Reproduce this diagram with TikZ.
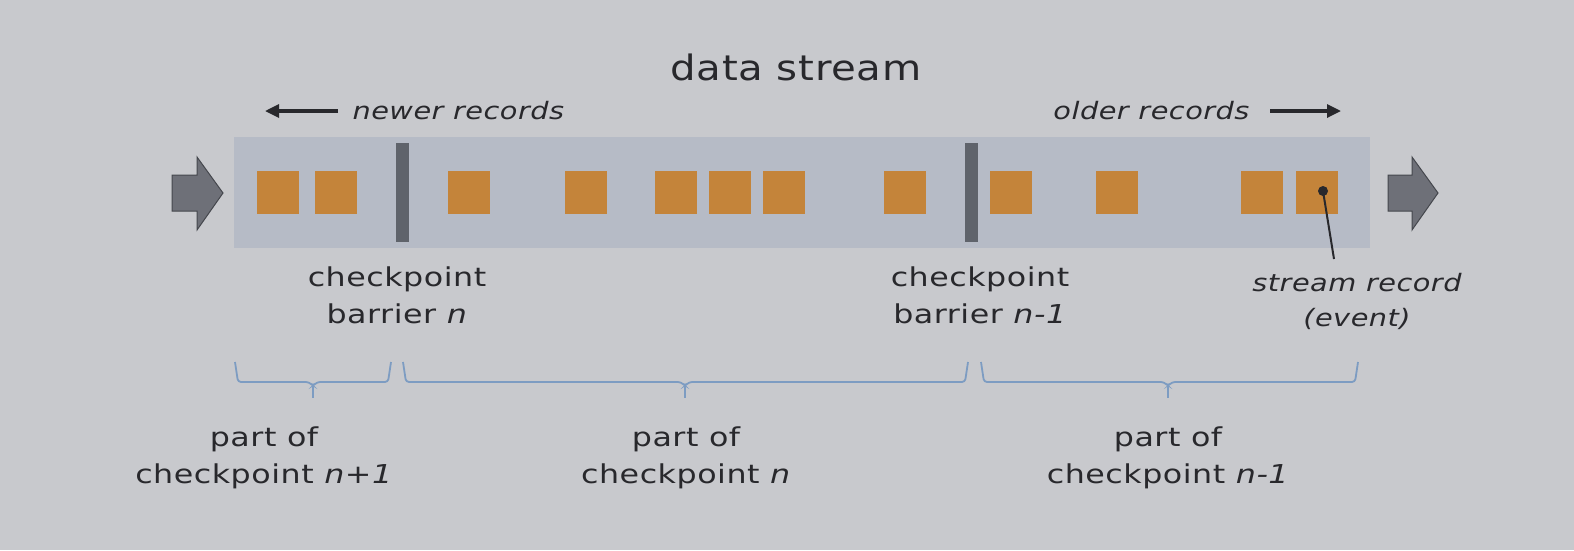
\documentclass[tikz,border=0pt]{standalone}
\usepackage{fontspec}
\setmainfont{DejaVu Sans}
\newfontfamily\titlefont{DejaVu Sans}[FakeStretch=1.15,LetterSpace=2]
\newfontfamily\bodyfont{DejaVu Sans}[FakeStretch=1.22,LetterSpace=2]
\newfontfamily\itfont{DejaVu Sans}[FakeStretch=1.2,LetterSpace=2]
\usetikzlibrary{arrows.meta}
\definecolor{bg}{HTML}{C8C9CD}
\definecolor{band}{HTML}{B6BBC6}
\definecolor{rec}{HTML}{C4843A}
\definecolor{barr}{HTML}{5F636B}
\definecolor{blk}{HTML}{6E7078}
\definecolor{blkd}{HTML}{45474D}
\definecolor{brc}{HTML}{7D9CC2}
\definecolor{txt}{HTML}{28282C}
\tikzset{
  recbox/.style={fill=rec, minimum width=42pt, minimum height=43pt, inner sep=0pt, anchor=north west},
  barrierbar/.style={fill=barr, minimum width=13pt, minimum height=99pt, inner sep=0pt, anchor=north west},
  lbl/.style={text=txt, font=\bodyfont\fontsize{26}{37}\selectfont, align=center},
  ilbl/.style={text=txt, font=\itfont\fontsize{24}{35}\selectfont\itshape, align=center},
  bracepath/.style={draw=brc, line width=1.8pt, rounded corners=3pt},
  blockarrow/.style={fill=blk, draw=blkd, line width=1pt, line join=miter},
  recarrow/.style={-{Triangle[length=14pt,width=13pt]}, line width=3.2pt, draw=txt},
}
\begin{document}
\begin{tikzpicture}[x=1pt,y=-1pt]
\fill[bg] (0,0) rectangle (1574,550);
\useasboundingbox (0,0) rectangle (1574,550);
\node[fill=band, minimum width=1136pt, minimum height=111pt, inner sep=0pt, anchor=north west] (band) at (234,137) {};
% records
\foreach \i/\x in {1/257,2/315,3/448,4/565,5/655,6/709,7/763,8/884,9/990,10/1096,11/1241,12/1296}
  \node[recbox] (r\i) at (\x,171) {};
% barriers
\node[barrierbar] (b1) at (396,143) {};
\node[barrierbar] (b2) at (965,143) {};
% block arrows
\draw[blockarrow] (172,175) -- (197,175) -- (197,157) -- (223,193) -- (197,230) -- (197,211) -- (172,211) -- cycle;
\draw[blockarrow] (1388,175) -- (1412,175) -- (1412,157) -- (1438,193) -- (1412,230) -- (1412,211) -- (1388,211) -- cycle;
% title
\node[text=txt, font=\titlefont\fontsize{35}{40}\selectfont] (title) at (796,67) {data stream};
% newer / older
\node[ilbl, anchor=west] (newer) at (349,111) {newer records};
\coordinate (na) at (265,111);
\draw[recarrow] (newer.west) ++(-11,0) -- (na);
\node[ilbl, anchor=east] (older) at (1253,111) {older records};
\coordinate (oa) at (1341,111);
\draw[recarrow] (older.east) ++(17,0) -- (oa);
% barrier labels
\node[lbl] (bl1) at (397,295) {checkpoint\\barrier \textit{n}};
\node[lbl] (bl2) at (980,295) {checkpoint\\barrier \textit{n-1}};
% stream record
\node[ilbl] (sr) at (1357,301) {stream record\\(event)};
\coordinate (dot) at (1323,191);
\coordinate (lend) at (1334,259);
\fill[txt] (dot) circle (5pt);
\draw[txt, line width=2pt] (dot) -- (lend);
% braces
\foreach \a/\t/\b in {235/313/391, 403/685/968, 981/1168/1358}{
  \draw[bracepath] (\a,362) -- (\a+3,382) -- (\t-4,382) -- (\t,386) -- (\t+4,382) -- (\b-3,382) -- (\b,362);
  \draw[draw=brc, line width=1.8pt] (\t,385) -- (\t,398);
}
% part labels
\node[lbl] (p1) at (264,458) {part of\\checkpoint \textit{n+1}};
\node[lbl] (p2) at (686,458) {part of\\checkpoint \textit{n}};
\node[lbl] (p3) at (1168,458) {part of\\checkpoint \textit{n-1}};
\end{tikzpicture}
\end{document}
